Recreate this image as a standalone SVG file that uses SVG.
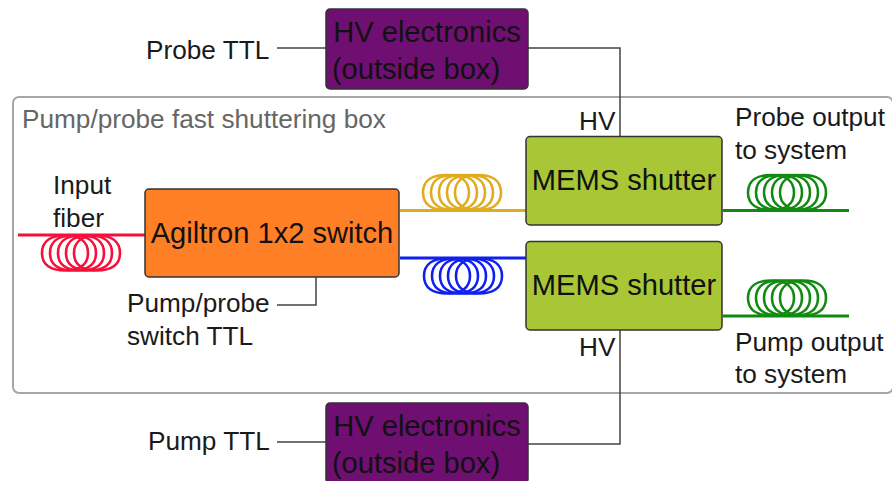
<svg xmlns="http://www.w3.org/2000/svg" width="892" height="481" viewBox="0 0 892 481">
<style>
text{font-family:"Liberation Sans",Arial,sans-serif;fill:#1a1a1a}
.l{font-size:26.2px}
.b{font-size:29.1px;text-anchor:middle;fill:#111}
.node{stroke:#333;stroke-width:1.5}
.w{fill:none;stroke:#444;stroke-width:1.5}
.f{fill:none;stroke-width:3}
.c{fill:none;stroke-width:2.6}
</style>
<defs>
<path id="loop" d="M-23 0C-23-12-14-17.500 0-17.500S23-12 23 0S14 17.500 0 17.500S-23 12-23 0Z"/>
<g id="coil"><use href="#loop" x="-16"/><use href="#loop" x="-8"/><use href="#loop"/><use href="#loop" x="8"/><use href="#loop" x="16"/></g>
</defs>
<rect width="892" height="481" fill="#fff"/>
<g id="box"><rect x="13" y="97" width="880" height="296" rx="6" fill="none" stroke="#a6a6a6" stroke-width="2"/><text class="l" x="22" y="128" style="fill:#666">Pump/probe fast shuttering box</text></g>
<g id="connectors">
<path class="w" d="M277 48H326M277 442H326M528 48H620V137M528 444H620V330M277 305H316V277"/>
<path class="f" stroke="#f5103c" d="M18 235H146"/>
<path class="f" stroke="#e0ac1e" d="M400 210.500H527"/>
<path class="f" stroke="#1020f0" d="M400 258H527"/>
<path class="f" stroke="#118a11" d="M723 210.500H849M723 316H849"/>
</g>
<g id="coil-input" class="c" stroke="#f5103c"><use href="#coil" x="81" y="253"/></g>
<g id="coil-probe" class="c" stroke="#e0ac1e"><use href="#coil" x="462" y="192.500"/></g>
<g id="coil-pump" class="c" stroke="#1020f0"><use href="#coil" x="463" y="276"/></g>
<g id="coil-probe-out" class="c" stroke="#118a11"><use href="#coil" x="787" y="192.500"/></g>
<g id="coil-pump-out" class="c" stroke="#118a11"><use href="#coil" x="787" y="298"/></g>
<g id="hv-top"><rect class="node" x="326" y="9" width="202" height="80" rx="4" fill="#6f0f72"/><text class="b" x="427" y="42">HV electronics</text><text class="b" x="416" y="79">(outside box)</text></g>
<g id="hv-bottom"><rect class="node" x="326" y="403" width="202" height="80" rx="4" fill="#6f0f72"/><text class="b" x="427" y="436">HV electronics</text><text class="b" x="416" y="473">(outside box)</text></g>
<g id="switch"><rect class="node" x="145" y="189" width="254" height="88" rx="4" fill="#ff7f27"/><text class="b" x="272" y="243">Agiltron 1x2 switch</text></g>
<g id="mems-top"><rect class="node" x="526" y="136.500" width="196" height="88.500" rx="4" fill="#a9c636"/><text class="b" x="624" y="190">MEMS shutter</text></g>
<g id="mems-bottom"><rect class="node" x="526" y="241.500" width="196" height="88.500" rx="4" fill="#a9c636"/><text class="b" x="624" y="295">MEMS shutter</text></g>
<g id="labels">
<text class="l" x="146" y="59">Probe TTL</text>
<text class="l" x="148" y="450">Pump TTL</text>
<text class="l" x="579" y="130">HV</text>
<text class="l" x="579" y="356">HV</text>
<text class="l" x="53" y="194">Input</text>
<text class="l" x="53" y="227">fiber</text>
<text class="l" x="127" y="312">Pump/probe</text>
<text class="l" x="127" y="345">switch TTL</text>
<text class="l" x="735" y="126">Probe output</text>
<text class="l" x="735" y="159">to system</text>
<text class="l" x="735" y="351">Pump output</text>
<text class="l" x="735" y="383">to system</text>
</g>
</svg>
